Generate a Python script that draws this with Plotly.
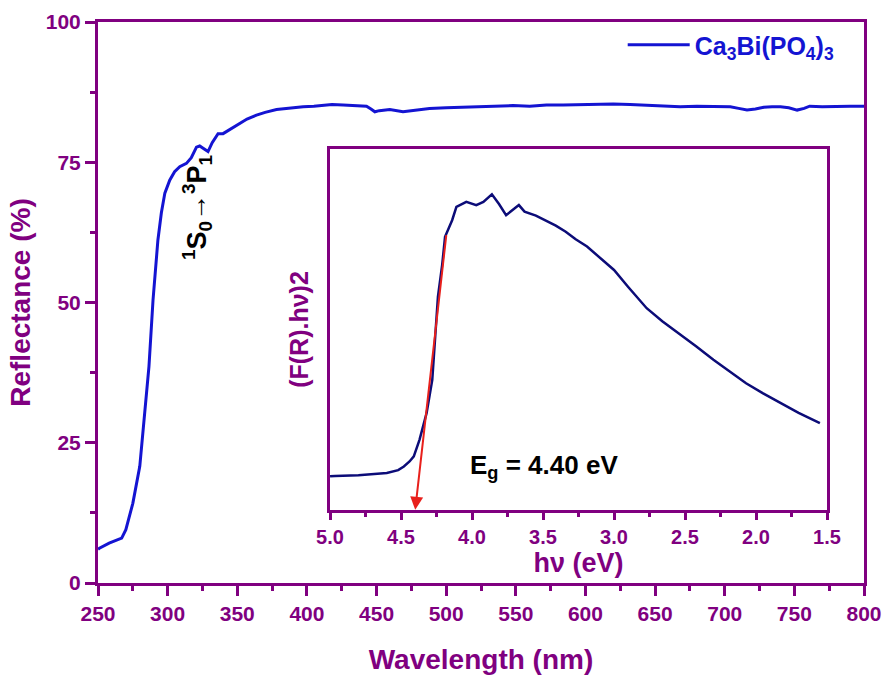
import plotly.graph_objects as go

# Diffuse reflectance spectrum of Ca3Bi(PO4)3
wavelength_nm = [250, 251, 258, 262, 267, 270, 275, 280, 283.5, 286.6, 289.5, 292, 293,
                 295.5, 298, 301.5, 305, 308.7, 313.5, 317, 320.7, 323, 325.5, 329, 332,
                 336.2, 339.8, 345, 351.8, 357, 363.8, 370, 378.2, 388, 397.3, 405, 411.6,
                 418, 426, 435, 442.8, 446, 448.8, 452, 459.5, 469, 478, 488, 500, 512,
                 524, 536, 548, 560, 572, 584, 596, 608, 620, 632, 644, 656, 668, 680, 692,
                 704, 710, 716, 722, 728, 734, 740, 746, 752, 757, 761, 770, 780, 790, 800]
reflectance = [6.0, 6.2, 7.1, 7.5, 8.0, 9.5, 14.2, 20.8, 29.7, 38.6, 50.4, 57.5, 61.1,
               66.0, 69.5, 71.8, 73.3, 74.2, 74.8, 75.8, 77.7, 77.9, 77.5, 76.9, 78.5,
               80.1, 80.1, 80.9, 81.9, 82.7, 83.4, 83.9, 84.4, 84.7, 84.9, 85.0, 85.2,
               85.3, 85.2, 85.1, 85.0, 84.5, 84.0, 84.2, 84.4, 84.0, 84.3, 84.6, 84.7, 84.8,
               84.9, 85.0, 85.1, 85.0, 85.2, 85.2, 85.3, 85.3, 85.4, 85.3, 85.2, 85.1, 84.9,
               85.0, 84.9, 84.9, 84.6, 84.3, 84.5, 84.8, 84.9, 84.9, 84.7, 84.3, 84.6, 85.0,
               84.9, 85.0, 85.0, 85.0]

# Kubelka-Munk plot (inset), arbitrary units
photon_ev = [5.00, 4.965, 4.80, 4.60, 4.52, 4.48, 4.44, 4.41, 4.37, 4.32, 4.28, 4.26,
             4.24, 4.21, 4.19, 4.14, 4.11, 4.04, 3.97, 3.92, 3.86, 3.81, 3.76, 3.67, 3.63,
             3.55, 3.48, 3.41, 3.34, 3.27, 3.19, 3.10, 3.00, 2.90, 2.77, 2.66, 2.54, 2.42,
             2.30, 2.18, 2.07, 1.95, 1.83, 1.70, 1.55]
fr_hv_sq = [9.3, 9.4, 9.6, 10.2, 11.0, 12.0, 13.4, 14.8, 19.4, 26.8, 36.0, 47.0,
            59.1, 68.0, 75.7, 80.3, 84.0, 85.4, 84.5, 85.4, 87.5, 84.8, 81.7, 84.5, 82.7,
            81.6, 80.3, 78.8, 77.1, 75.0, 73.0, 70.0, 66.5, 61.8, 55.9, 52.3, 48.9, 45.3,
            41.6, 38.2, 35.1, 32.3, 29.6, 26.9, 24.0]

# Tauc extrapolation line and band-gap value
band_gap_ev = 4.40
fit_start = (4.18, 76.6)

PURPLE = "#800080"
FONT = "Liberation Sans"

fig = go.Figure()

fig.add_trace(go.Scatter(
    x=wavelength_nm, y=reflectance, mode="lines",
    name="Ca<sub>3</sub>Bi(PO<sub>4</sub>)<sub>3</sub>",
    line=dict(color="#1414D2", width=3),
    xaxis="x", yaxis="y",
))

fig.add_trace(go.Scatter(
    x=photon_ev, y=fr_hv_sq, mode="lines", showlegend=False,
    line=dict(color="#0C0C78", width=2.5),
    xaxis="x2", yaxis="y2",
))

tick_font = dict(family=FONT, size=21, color=PURPLE, weight="bold")
title_font = dict(family=FONT, size=28, color=PURPLE, weight="bold")

fig.update_layout(
    width=887, height=679,
    margin=dict(l=98, r=23, t=22, b=96, autoexpand=False),
    paper_bgcolor="white", plot_bgcolor="white",
    font=dict(family=FONT),
    xaxis=dict(
        domain=[0, 1], range=[250, 800], dtick=50, tick0=250, automargin=False,
        showgrid=False, zeroline=False,
        showline=True, linewidth=3, linecolor=PURPLE, mirror=True,
        ticks="outside", ticklen=10, tickwidth=3, tickcolor=PURPLE,
        minor=dict(dtick=25, ticks="outside", ticklen=5, tickwidth=3, tickcolor=PURPLE),
        tickfont=tick_font,
        title=dict(text="Wavelength (nm)", font=title_font, standoff=26),
    ),
    yaxis=dict(
        domain=[0, 1], range=[0, 100], dtick=25, automargin=False,
        showgrid=False, zeroline=False,
        showline=True, linewidth=3, linecolor=PURPLE, mirror=True,
        ticks="outside", ticklen=10, tickwidth=3, tickcolor=PURPLE,
        minor=dict(dtick=12.5, ticks="outside", ticklen=5, tickwidth=3, tickcolor=PURPLE),
        tickfont=tick_font,
        title=dict(text="Reflectance (%)", font=title_font, standoff=7),
    ),
    xaxis2=dict(
        anchor="y2", domain=[0.3029, 0.9517], range=[5.0, 1.5], dtick=0.5,
        tickformat=".1f", automargin=False,
        showgrid=False, zeroline=False,
        showline=True, linewidth=3, linecolor=PURPLE, mirror=True,
        ticks="outside", ticklen=7, tickwidth=3, tickcolor=PURPLE,
        minor=dict(dtick=0.25, ticks="outside", ticklen=4, tickwidth=3, tickcolor=PURPLE),
        tickfont=dict(family=FONT, size=20, color=PURPLE, weight="bold"),
        title=dict(text="hν (eV)", font=dict(family=FONT, size=27, color=PURPLE, weight="bold"),
                   standoff=4),
    ),
    yaxis2=dict(
        anchor="x2", domain=[0.1305, 0.7733], range=[0, 100], automargin=False,
        showgrid=False, zeroline=False, showticklabels=False, ticks="",
        showline=True, linewidth=3, linecolor=PURPLE, mirror=True,
        title=dict(text="(F(R).hν)2", font=dict(family=FONT, size=25, color=PURPLE, weight="bold"),
                   standoff=12),
    ),
    legend=dict(
        x=0.685, y=1.0, xanchor="left", yanchor="top",
        bgcolor="rgba(0,0,0,0)", itemwidth=62,
        font=dict(family=FONT, size=25, color="#1414D2", weight="bold"),
    ),
    annotations=[
        dict(
            x=321, y=67.0, xref="x", yref="y", textangle=-90, showarrow=False,
            text="<sup>1</sup>S<sub>0</sub>→<sup>3</sup>P<sub>1</sub>",
            font=dict(family=FONT, size=27, color="black", weight="bold"),
        ),
        dict(
            x=3.49, y=11.9, xref="x2", yref="y2", showarrow=False,
            text="E<sub>g</sub> = 4.40 eV",
            font=dict(family=FONT, size=26, color="black", weight="bold"),
        ),
        dict(
            x=band_gap_ev, y=0, xref="x2", yref="y2",
            ax=fit_start[0], ay=fit_start[1], axref="x2", ayref="y2",
            showarrow=True, arrowhead=2, arrowsize=1.3, arrowwidth=2,
            arrowcolor="#E8201C", text="",
        ),
    ],
)

fig.write_html("out.html")
